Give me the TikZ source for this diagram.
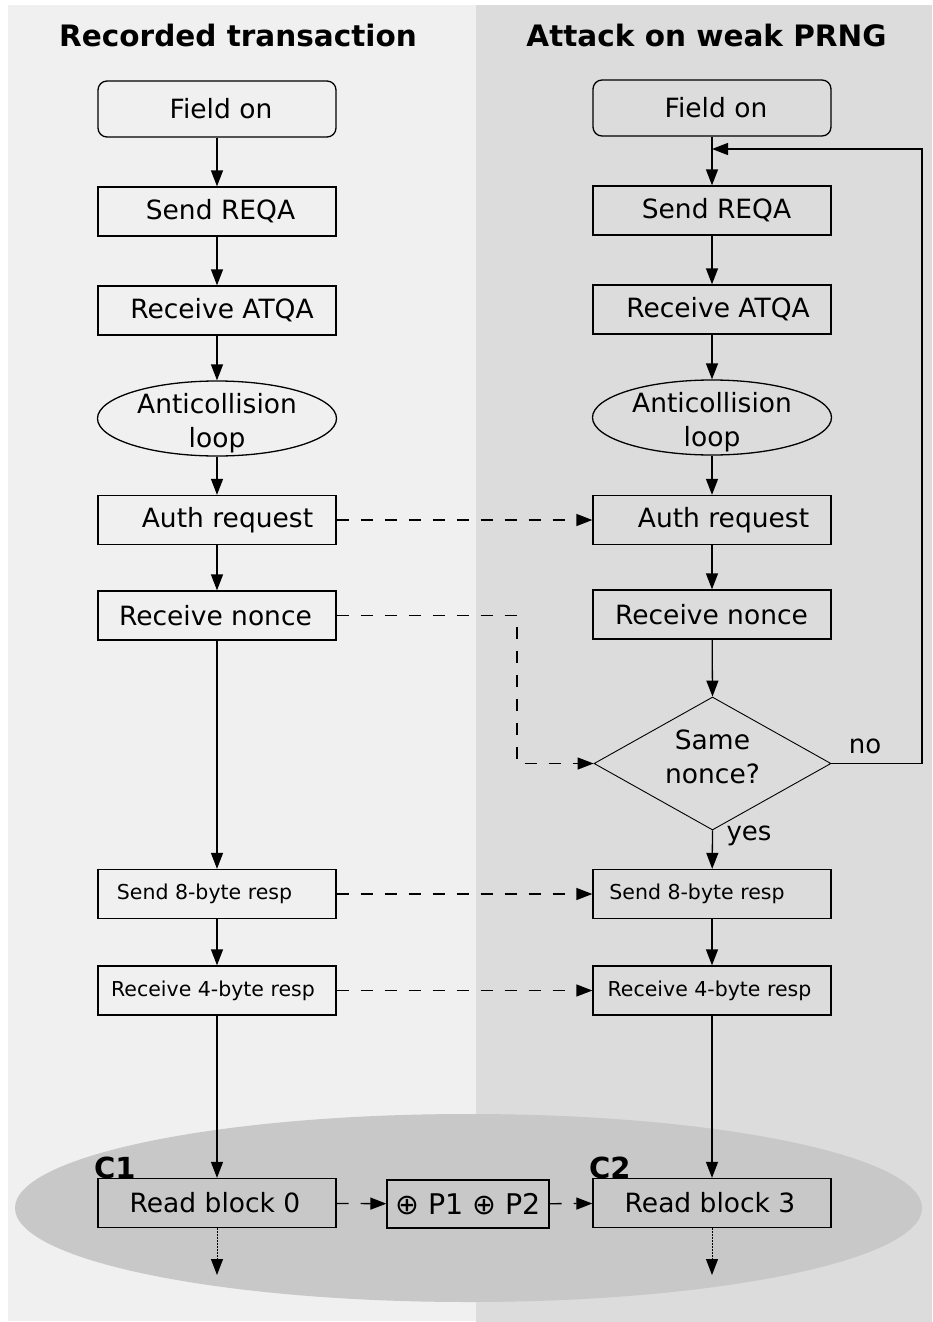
\documentclass[tikz,border=0pt]{standalone}
\usepackage{fontspec}
\setmainfont{DejaVu Sans}
\usetikzlibrary{arrows.meta,shapes.geometric}

\definecolor{panelL}{HTML}{F0F0F0}
\definecolor{panelR}{HTML}{DCDCDC}
\definecolor{blob}{HTML}{C8C8C8}

\newcommand{\mainsz}{\fontsize{26.5}{34}\selectfont}
\newcommand{\smallsz}{\fontsize{20.5}{25}\selectfont}
% shift a box caption horizontally by #1 pt
\newcommand{\offtext}[2]{\makebox[0pt][c]{\hspace*{#1pt}\hspace*{#1pt}#2}}

\begin{document}
\begin{tikzpicture}[x=1pt,y=-1pt,
  box/.style={draw, line width=1.3pt, inner sep=0pt,
    minimum width=238pt, minimum height=49pt, font=\mainsz},
  smallbox/.style={box, font=\smallsz},
  startbox/.style={box, rounded corners=9pt, minimum height=56pt},
  oval/.style={draw, ellipse, line width=1.3pt, inner xsep=0pt, inner ysep=-5pt,
    minimum width=239pt, minimum height=75pt, align=center, font=\mainsz,
    text height=60pt, text depth=2pt},
  decision/.style={draw, diamond, line width=0.9pt, inner sep=0pt, aspect=1.78,
    minimum width=237pt, minimum height=133pt, align=center, font=\mainsz,
    text depth=14pt},
  title/.style={font=\bfseries\fontsize{29.5}{36}\selectfont, anchor=base, inner sep=0pt},
  clabel/.style={font=\bfseries\fontsize{29}{34}\selectfont, anchor=base west, inner sep=0pt},
  lbl/.style={font=\fontsize{26}{30}\selectfont, inner sep=0pt},
  arr/.style={line width=1.3pt, -{Triangle[length=16pt,width=12pt]}},
  darr/.style={arr, dash pattern=on 12pt off 12pt},
  dotarr/.style={line width=1pt, dash pattern=on 1.5pt off 1.5pt,
    -{Triangle[length=16pt,width=12pt,line width=1pt]}}
]
\useasboundingbox (0,0) rectangle (932,1322);

% panels
\fill[white] (0,0) rectangle (932,1322);
\fill[panelL] (8,5) rectangle (476,1321);
\fill[panelR] (476,5) rectangle (932,1322);
\fill[blob] (468.5,1208) ellipse [x radius=453.5pt, y radius=94pt];

% column titles
\node[title] (tL) at (238,47) {Recorded transaction};
\node[title] (tR) at (706.5,47) {Attack on weak PRNG};

% ciphertext labels
\node[clabel] (c1) at (94,1178) {C1};
\node[clabel] (c2) at (589,1178) {C2};

% recorded transaction
\node[startbox] (fieldL) at (217,109) {\offtext{4}{Field on}};
\node[box] (reqaL)  at (217,211.5) {\offtext{3.5}{Send REQA}};
\node[box] (atqaL)  at (217,310.5) {\offtext{5}{Receive ATQA}};
\node[oval] (antiL) at (217,418.5) {Anticollision\\loop};
\node[box] (authL)  at (217,520)   {\offtext{10.5}{Auth request}};
\node[box] (nonceL) at (217,615.5) {\offtext{-1.5}{Receive nonce}};
\node[smallbox] (send8L) at (217,894)   {\offtext{-12.5}{Send 8-byte resp}};
\node[smallbox] (recv4L) at (217,990.5) {\offtext{-4}{Receive 4-byte resp}};
\node[box] (read0) at (217,1203) {\offtext{-2}{Read block 0}};

% attack on weak PRNG
\node[startbox] (fieldR) at (712,108) {\offtext{4}{Field on}};
\node[box] (reqaR)  at (712,210.5) {\offtext{4.5}{Send REQA}};
\node[box] (atqaR)  at (712,309.5) {\offtext{6}{Receive ATQA}};
\node[oval] (antiR) at (712,417.5) {Anticollision\\loop};
\node[box] (authR)  at (712,520)   {\offtext{11.5}{Auth request}};
\node[box] (nonceR) at (712,614.5) {\offtext{-0.5}{Receive nonce}};
\node[decision] (same) at (712.5,763.5) {Same\\nonce?};
\node[smallbox] (send8R) at (712,894)   {\offtext{-15}{Send 8-byte resp}};
\node[smallbox] (recv4R) at (712,990.5) {\offtext{-2.5}{Receive 4-byte resp}};
\node[box] (read3) at (712,1203) {\offtext{-2}{Read block 3}};

% combination of the two blocks
\node[box, minimum width=162pt, minimum height=48pt,
  font=\fontsize{28.5}{34}\selectfont] (xorbox) at (468,1204) {⊕ P1 ⊕ P2};

% branch labels
\node[lbl] (lno)  at (865,746) {no};
\node[lbl] (lyes) at (749,836) {yes};

% helper points
\coordinate (loopcorner) at (922,149);
\coordinate (loopin) at (712,149);
\coordinate (nbend) at (517,763.5);
\coordinate (out0) at (217,1275);
\coordinate (out3) at (712,1275);

% left flow
\draw[arr] (fieldL) -- (reqaL);
\draw[arr] (reqaL) -- (atqaL);
\draw[arr] (atqaL) -- (antiL);
\draw[arr] (antiL) -- (authL);
\draw[arr] (authL) -- (nonceL);
\draw[arr] (nonceL) -- (send8L);
\draw[arr] (send8L) -- (recv4L);
\draw[arr] (recv4L) -- (read0);
\draw[dotarr] (read0) -- (out0);

% right flow
\draw[arr] (fieldR) -- (reqaR);
\draw[arr] (reqaR) -- (atqaR);
\draw[arr] (atqaR) -- (antiR);
\draw[arr] (antiR) -- (authR);
\draw[arr] (authR) -- (nonceR);
\draw[arr] (nonceR) -- (same.north);
\draw[arr] (same.south) -- (send8R);
\draw[arr] (send8R) -- (recv4R);
\draw[arr] (recv4R) -- (read3);
\draw[dotarr] (read3) -- (out3);
\draw[arr] (same.east) -| (loopcorner) -- (loopin);

% replayed messages
\draw[darr] (authL) -- (authR);
\draw[darr] (nonceL.east) -| (nbend) -- (same.west);
\draw[darr] (send8L) -- (send8R);
\draw[darr] (recv4L) -- (recv4R);
\draw[darr] (read0) -- (xorbox);
\draw[darr] (xorbox) -- (read3);
\end{tikzpicture}
\end{document}
